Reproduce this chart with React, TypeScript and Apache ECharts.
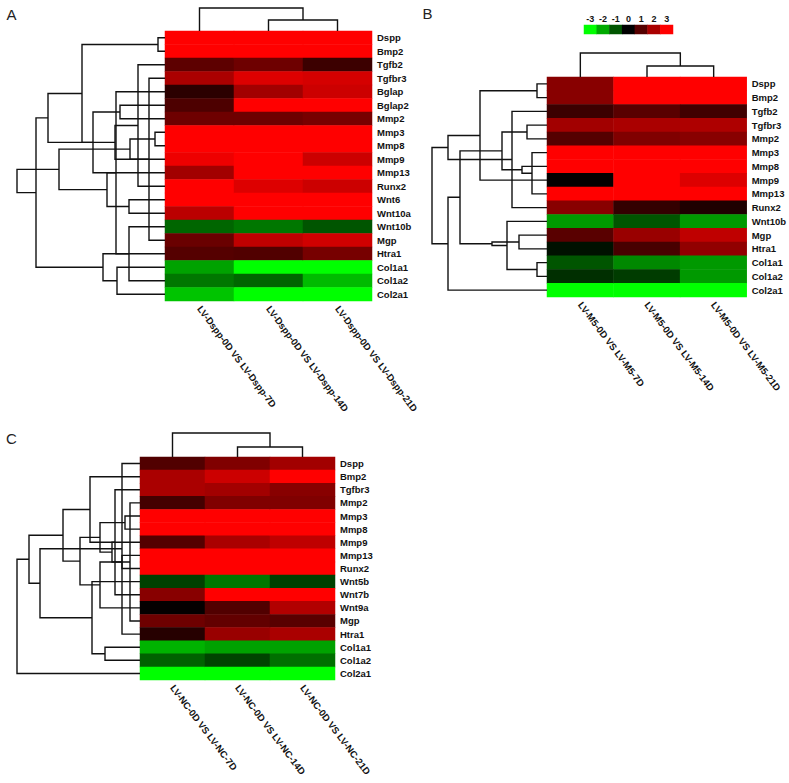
import React, { useEffect, useRef } from "react";
import * as echarts from "echarts";

const FONT = '"Liberation Sans", Arial, Helvetica, sans-serif';

// ---------- Panel A ----------
const rowsA = ["Dspp","Bmp2","Tgfb2","Tgfbr3","Bglap","Bglap2","Mmp2","Mmp3","Mmp8","Mmp9","Mmp13","Runx2","Wnt6","Wnt10a","Wnt10b","Mgp","Htra1","Col1a1","Col1a2","Col2a1"];
const colsA = ["LV-Dspp-0D VS LV-Dspp-7D","LV-Dspp-0D VS LV-Dspp-14D","LV-Dspp-0D VS LV-Dspp-21D"];
const a7D = [3,3,1.1,2.0,0.5,0.9,1.3,3,3,2.8,1.9,3,3,2.2,-1.2,1.25,1.0,-1.9,-1.4,-2.3];
const a14D = [3,3,1.3,2.6,1.9,3,1.3,3,3,3,3,2.6,3,3,-1.4,2.25,0.95,-3,-1.2,-3];
const a21D = [3,3,0.7,2.5,2.4,3,1.4,3,3,2.4,3,2.4,3,3,-1.0,2.45,1.4,-3,-2.2,-3];

// ---------- Panel B ----------
const rowsB = ["Dspp","Bmp2","Tgfb2","Tgfbr3","Mmp2","Mmp3","Mmp8","Mmp9","Mmp13","Runx2","Wnt10b","Mgp","Htra1","Col1a1","Col1a2","Col2a1"];
const colsB = ["LV-M5-0D VS LV-M5-7D","LV-M5-0D VS LV-M5-14D","LV-M5-0D VS LV-M5-21D"];
const b7D = [1.6,1.6,0.7,1.9,1.0,3,3,0.05,3,1.6,-1.8,1.05,-0.2,-1.0,-0.55,-3];
const b14D = [3,3,1.05,2.0,1.5,3,3,3,3,0.6,-1.0,1.8,0.85,-1.6,-0.7,-3];
const b21D = [3,3,0.75,2.05,1.6,3,3,2.6,3,0.35,-1.8,2.25,1.7,-1.8,-1.8,-3];

// ---------- Panel C ----------
const rowsC = ["Dspp","Bmp2","Tgfbr3","Mmp2","Mmp3","Mmp8","Mmp9","Mmp13","Runx2","Wnt5b","Wnt7b","Wnt9a","Mgp","Htra1","Col1a1","Col1a2","Col2a1"];
const colsC = ["LV-NC-0D VS LV-NC-7D","LV-NC-0D VS LV-NC-14D","LV-NC-0D VS LV-NC-21D"];
const c7D = [0.95,2.0,2.0,0.8,3,3,1.0,3,3,-0.75,1.6,0.05,1.3,0.45,-2.1,-1.15,-3];
const c14D = [1.5,2.4,1.9,1.5,3,3,2.0,3,3,-1.4,3,0.95,1.15,1.8,-1.9,-0.8,-3];
const c21D = [1.9,3,1.6,1.5,3,3,2.25,3,3,-0.75,3,2.1,1.05,2.0,-1.9,-1.3,-3];

// ---------- Colour key ----------
const keyLabels = ["-3","-2","-1","0","1","2","3"];
const keyValues = [-3,-2,-1,0,1,2,3];
const keyColors = ["#00ff00","#00aa00","#005500","#000000","#550000","#aa0000","#ff0000"];

// ---------- Dendrograms: [id, childA, childB, linkage height] ----------
type Merge = [string, string, string, number];
const treeRowsA: Merge[] = [
  ["a0","Dspp","Bmp2",7],
  ["a1","Tgfbr3","Mgp",16],
  ["a2","Tgfb2","Runx2",27],
  ["a3","Mmp3","Mmp8",10],
  ["a4","Mmp9","a3",35],
  ["a5","Wnt6","Wnt10a",36],
  ["a6","Wnt10b","Col1a2",36],
  ["a7","Col1a1","Col2a1",48],
  ["a8","a6","a7",62],
  ["a9","Bglap","Htra1",49],
  ["a10","Mmp13","a5",58],
  ["a11","a1","a2",50],
  ["a12","Bglap2","Mmp2",45],
  ["a13","a12","a9",72],
  ["a14","a0","a11",83],
  ["a15","a14","a13",117],
  ["a16","a4","a10",106],
  ["a17","a15","a8",129],
  ["a18","a16","a17",148],
];
const treeRowsB: Merge[] = [
  ["b0","Dspp","Bmp2",10],
  ["b1","Mmp3","Mmp13",15],
  ["b2","Mmp8","b1",25],
  ["b3","Tgfbr3","Mmp2",20],
  ["b4","Tgfb2","Runx2",35],
  ["b5","Mgp","Htra1",28],
  ["b6","Col1a1","Col1a2",10],
  ["b7","Wnt10b","b6",40],
  ["b8","b5","b7",55],
  ["b9","b0","Mmp9",67],
  ["b10","b3","b2",45],
  ["b11","b9","b4",99],
  ["b12","b10","b8",87],
  ["b13","b12","Col2a1",99],
  ["b14","b11","b13",115],
];
const treeRowsC: Merge[] = [
  ["c0","Mmp3","Mmp8",15],
  ["c1","Mmp13","Runx2",18],
  ["c2","Mmp9","c1",28],
  ["c3","c0","c2",40],
  ["c4","Dspp","Htra1",18],
  ["c5","Mmp2","Mgp",10],
  ["c6","Tgfbr3","Wnt7b",25],
  ["c7","Col1a1","Col1a2",35],
  ["c8","Wnt5b","c7",48],
  ["c9","Bmp2","c6",50],
  ["c10","c5","Wnt9a",40],
  ["c11","c3","c10",60],
  ["c12","c11","c9",77],
  ["c13","c4","c8",100],
  ["c14","c12","c13",111],
  ["c15","c14","Col2a1",123],
];
const treeColsA: Merge[] = [["k0", colsA[1], colsA[2], 11], ["k1", colsA[0], "k0", 23]];
const treeColsB: Merge[] = [["k0", colsB[1], colsB[2], 11], ["k1", colsB[0], "k0", 24]];
const treeColsC: Merge[] = [["k0", colsC[1], colsC[2], 10], ["k1", colsC[0], "k0", 24]];

function layoutTree(leaves: string[], merges: Merge[]) {
  const nodes: Record<string, { p: number; h: number }> = {};
  const pos = (r: string) => {
    const i = leaves.indexOf(r);
    return i >= 0 ? { p: i, h: 0 } : nodes[r];
  };
  const segs: number[][] = [];
  merges.forEach(([id, a, b, h]) => {
    const A = pos(a), B = pos(b);
    segs.push([A.h, A.p, h, B.p, B.h]);
    nodes[id] = { p: (A.p + B.p) / 2, h };
  });
  return segs;
}

function maxH(m: Merge[]) {
  return Math.max(...m.map((d) => d[3]));
}

const LINE = { stroke: "#111111", lineWidth: 1.4, fill: "none" };

function rowRender(_p: any, api: any) {
  const v = (i: number) => api.value(i);
  const pts = [[v(0), v(1)], [v(2), v(1)], [v(2), v(3)], [v(4), v(3)]].map((q) => api.coord(q));
  return { type: "polyline", shape: { points: pts }, style: LINE };
}
function colRender(_p: any, api: any) {
  const v = (i: number) => api.value(i);
  const pts = [[v(1), v(0)], [v(1), v(2)], [v(3), v(2)], [v(3), v(4)]].map((q) => api.coord(q));
  return { type: "polyline", shape: { points: pts }, style: LINE };
}

const hidden = { axisLine: { show: false }, axisTick: { show: false }, splitLine: { show: false } };

function buildOption() {
  const panels = [
    { rows: rowsA, cols: colsA, vals: [a7D, a14D, a21D], rt: treeRowsA, ct: treeColsA,
      hm: { left: 165, top: 31, width: 207, height: 270 }, rdLeft: 17, cdTop: 8 },
    { rows: rowsB, cols: colsB, vals: [b7D, b14D, b21D], rt: treeRowsB, ct: treeColsB,
      hm: { left: 547, top: 77, width: 200, height: 220 }, rdLeft: 432, cdTop: 53 },
    { rows: rowsC, cols: colsC, vals: [c7D, c14D, c21D], rt: treeRowsC, ct: treeColsC,
      hm: { left: 140, top: 457, width: 195, height: 223 }, rdLeft: 17, cdTop: 433 },
  ];
  const grid: any[] = [], xAxis: any[] = [], yAxis: any[] = [], series: any[] = [];
  const heatIdx: number[] = [];
  panels.forEach((P) => {
    const g = grid.length;
    grid.push({ ...P.hm });
    xAxis.push({ type: "category", gridIndex: g, data: P.cols, ...hidden,
      axisLabel: { rotate: -53, margin: 6, fontSize: 9.5, fontWeight: "bold", color: "#111", fontFamily: FONT, interval: 0 } });
    yAxis.push({ type: "category", gridIndex: g, data: P.rows, inverse: true, position: "right", ...hidden,
      axisLabel: { margin: 5, fontSize: 9.5, fontWeight: "bold", color: "#111", fontFamily: FONT, interval: 0 } });
    const data: number[][] = [];
    P.vals.forEach((col, ci) => col.forEach((v, ri) => data.push([ci, ri, v])));
    heatIdx.push(series.length);
    series.push({ type: "heatmap", xAxisIndex: g, yAxisIndex: g, data, itemStyle: { borderWidth: 0 } });
    const r = grid.length;
    grid.push({ left: P.rdLeft, top: P.hm.top, width: P.hm.left - P.rdLeft, height: P.hm.height });
    xAxis.push({ type: "value", gridIndex: r, min: 0, max: maxH(P.rt), inverse: true, show: false });
    yAxis.push({ type: "value", gridIndex: r, min: -0.5, max: P.rows.length - 0.5, inverse: true, show: false });
    series.push({ type: "custom", xAxisIndex: r, yAxisIndex: r, clip: false, silent: true,
      renderItem: rowRender, data: layoutTree(P.rows, P.rt), encode: { x: [0, 2, 4], y: [1, 3] } });
    const c = grid.length;
    grid.push({ left: P.hm.left, top: P.cdTop, width: P.hm.width, height: P.hm.top - P.cdTop });
    xAxis.push({ type: "value", gridIndex: c, min: -0.5, max: P.cols.length - 0.5, show: false });
    yAxis.push({ type: "value", gridIndex: c, min: 0, max: maxH(P.ct), show: false });
    series.push({ type: "custom", xAxisIndex: c, yAxisIndex: c, clip: false, silent: true,
      renderItem: colRender, data: layoutTree(P.cols, P.ct), encode: { x: [1, 3], y: [0, 2, 4] } });
  });
  const k = grid.length;
  grid.push({ left: 584, top: 25, width: 89, height: 9 });
  xAxis.push({ type: "category", gridIndex: k, data: keyLabels, position: "top", ...hidden,
    axisLabel: { margin: 2, fontSize: 9, fontWeight: "bold", color: "#111", fontFamily: FONT, interval: 0 } });
  yAxis.push({ type: "category", gridIndex: k, data: [""], show: false });
  heatIdx.push(series.length);
  series.push({ type: "heatmap", xAxisIndex: k, yAxisIndex: k, data: keyValues.map((v, i) => [i, 0, v]) });

  const letter = (t: string, x: number, y: number) => ({
    type: "text", x, y, style: { text: t, fontSize: 15, fontFamily: FONT, fill: "#222", align: "center", verticalAlign: "middle" },
  });

  return {
    animation: false,
    backgroundColor: "#ffffff",
    grid, xAxis, yAxis, series,
    visualMap: { type: "continuous", show: false, min: -3, max: 3, seriesIndex: heatIdx, inRange: { color: keyColors } },
    graphic: [letter("A", 11.5, 14), letter("B", 427.5, 13.5), letter("C", 11.5, 438)],
  };
}

export default function App() {
  const ref = useRef<HTMLDivElement>(null);
  useEffect(() => {
    document.body.style.margin = "0";
    const chart = echarts.init(ref.current!, undefined, { renderer: "svg" });
    chart.setOption(buildOption() as any);
    return () => chart.dispose();
  }, []);
  return <div ref={ref} style={{ width: 789, height: 783, position: "absolute", left: 0, top: 0 }} />;
}
